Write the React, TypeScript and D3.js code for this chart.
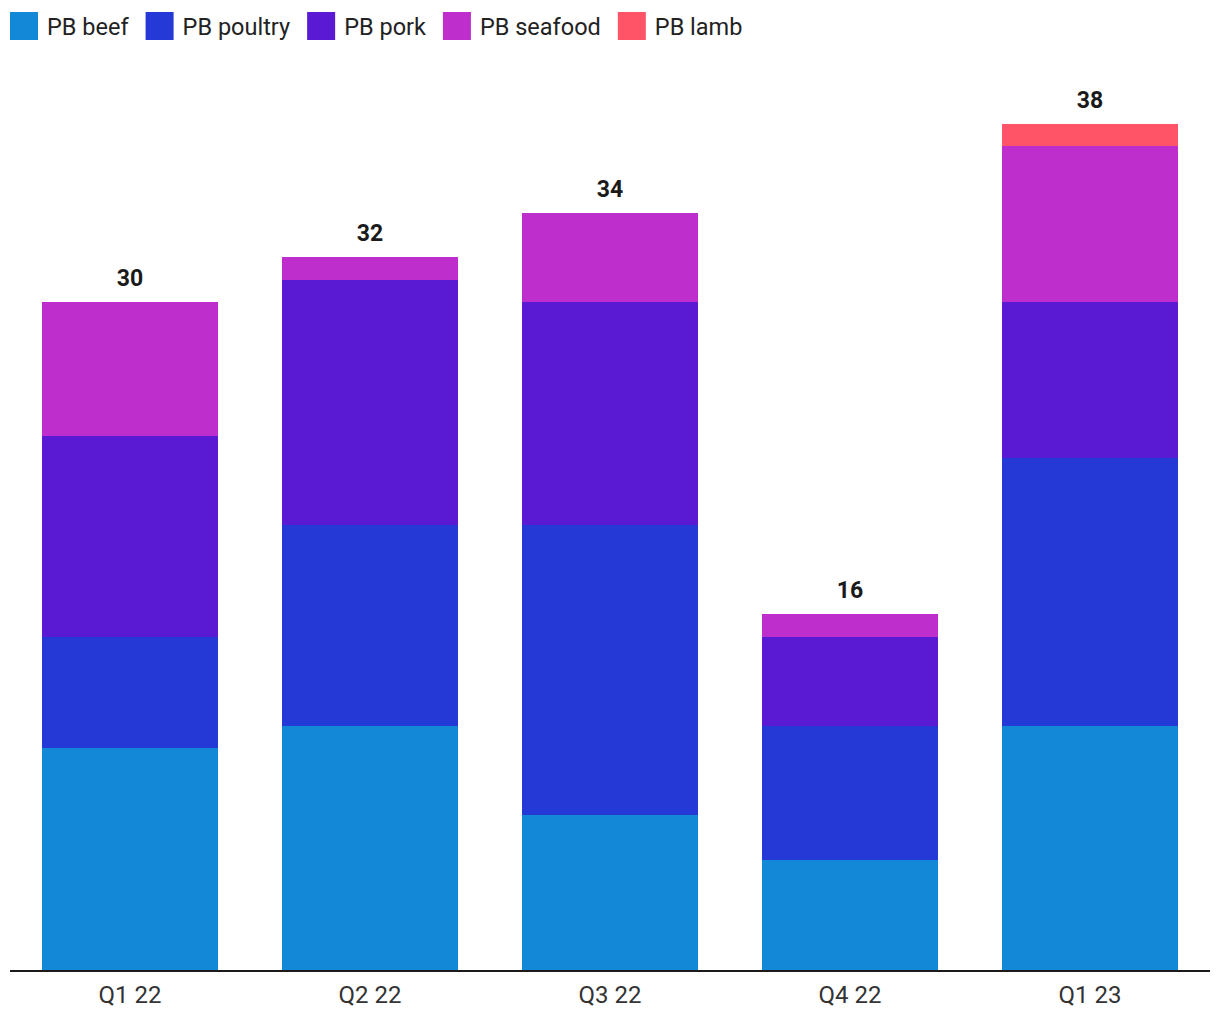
import React, { useEffect, useRef } from "react";
import * as d3 from "d3";

const categories = ["Q1 22", "Q2 22", "Q3 22", "Q4 22", "Q1 23"];
const seriesNames = ["PB beef", "PB poultry", "PB pork", "PB seafood", "PB lamb"];
const seriesColors = ["#1288D6", "#2539D6", "#5A1AD4", "#BE2ECC", "#FF5468"];
const beef = [10, 11, 7, 5, 11];
const poultry = [5, 9, 13, 6, 12];
const pork = [9, 11, 10, 4, 7];
const seafood = [6, 1, 4, 1, 7];
const lamb = [0, 0, 0, 0, 1];

const W = 1220;
const H = 1020;

export default function App() {
  const ref = useRef<SVGSVGElement | null>(null);

  useEffect(() => {
    const svg = d3.select(ref.current);
    svg.selectAll("*").remove();
    const font = "Roboto, 'Noto Sans', sans-serif";

    const seriesVals = [beef, poultry, pork, seafood, lamb];
    const rows = categories.map((c, i) => {
      const r: any = { cat: c };
      seriesNames.forEach((s, j) => (r[s] = seriesVals[j][i]));
      return r;
    });
    const stack = d3.stack<any>().keys(seriesNames)(rows);
    const totals = rows.map((r) => seriesNames.reduce((a, s) => a + r[s], 0));

    const x = d3.scaleBand().domain(categories).range([10, 1210]).paddingInner(0.2667).paddingOuter(0.1333);
    const y = d3.scaleLinear().domain([0, 38]).range([971, 123.6]);

    const g = svg.append("g");
    stack.forEach((layer, j) => {
      g.selectAll(null)
        .data(layer)
        .enter()
        .append("rect")
        .attr("x", (d: any) => x(d.data.cat)!)
        .attr("width", x.bandwidth())
        .attr("y", (d: any) => Math.round(y(d[1])))
        .attr("height", (d: any) => Math.max(0, Math.round(y(d[0])) - Math.round(y(d[1]))))
        .attr("shape-rendering", "crispEdges")
        .attr("fill", seriesColors[j]);
    });

    // totals
    g.selectAll(null)
      .data(categories)
      .enter()
      .append("text")
      .attr("x", (c) => x(c)! + x.bandwidth() / 2)
      .attr("y", (c, i) => y(totals[i]) - 16)
      .attr("text-anchor", "middle")
      .attr("font-family", font)
      .attr("font-weight", "bold")
      .attr("font-size", 23)
      .attr("fill", "#1a1a1a")
      .text((c, i) => totals[i]);

    // axis
    const axis = svg.append("g").attr("transform", "translate(0,971)");
    axis.call(d3.axisBottom(x).tickSize(0).tickPadding(15) as any);
    axis.select(".domain").attr("stroke", "#1a1a1a").attr("stroke-width", 2).attr("d", "M10,0H1210");
    axis.selectAll("text").attr("font-family", font).attr("font-size", 24).attr("fill", "#333");

    // legend
    const leg = svg.append("g");
    let lx = 10;
    seriesNames.forEach((s, j) => {
      leg.append("rect").attr("x", lx).attr("y", 12).attr("width", 28).attr("height", 28).attr("fill", seriesColors[j]);
      const t = leg
        .append("text")
        .attr("x", lx + 37)
        .attr("y", 34.5)
        .attr("font-family", font)
        .attr("font-size", 23.5)
        .attr("fill", "#222")
        .text(s);
      const w = (t.node() as SVGTextElement).getComputedTextLength();
      lx = lx + 37 + w + 17;
    });
  }, []);

  return (
    <svg
      ref={ref}
      width={W}
      height={H}
      style={{ position: "absolute", left: 0, top: 0, background: "#fff", display: "block" }}
    />
  );
}
